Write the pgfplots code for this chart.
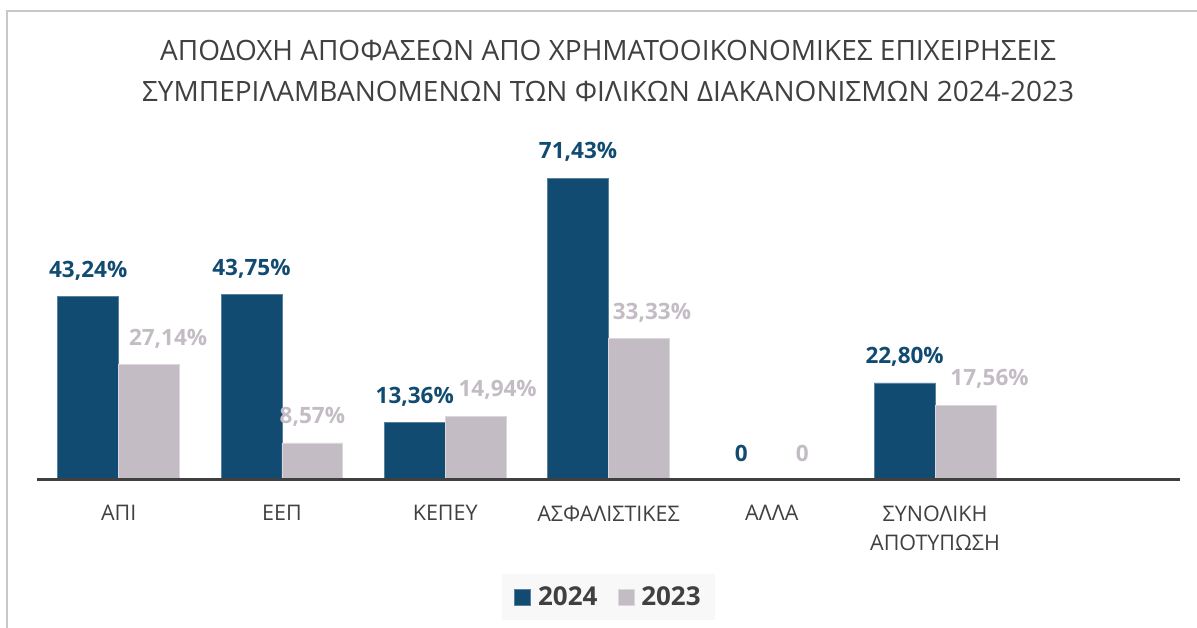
\documentclass[border=0pt]{standalone}
\usepackage{pgfplots}
\pgfplotsset{compat=1.18}
\usepackage{fontspec}
\setmainfont{Open Sans}
\definecolor{cblue}{HTML}{114B72}
\definecolor{cgrey}{HTML}{C3BCC4}
\definecolor{ctext}{HTML}{404040}
\definecolor{cborder}{HTML}{C8C8C8}
\definecolor{clegbg}{HTML}{F8F8F8}
\begin{document}
\begin{tikzpicture}
\path[use as bounding box] (0pt,0pt) rectangle (1197pt,-628pt);
\draw[cborder, line width=1.5pt] (7pt,-628pt) -- (7pt,-11pt) -- (1197pt,-11pt);
\node[align=center, text=ctext, font=\fontsize{28}{41}\selectfont] at (608pt,-71pt)
 {ΑΠΟΔΟΧΗ ΑΠΟΦΑΣΕΩΝ ΑΠΟ ΧΡΗΜΑΤΟΟΙΚΟΝΟΜΙΚΕΣ ΕΠΙΧΕΙΡΗΣΕΙΣ\\ΣΥΜΠΕΡΙΛΑΜΒΑΝΟΜΕΝΩΝ ΤΩΝ ΦΙΛΙΚΩΝ ΔΙΑΚΑΝΟΝΙΣΜΩΝ 2024-2023};
\begin{axis}[
  at={(37pt,-479pt)}, anchor=south west,
  scale only axis, width=1143pt, height=337pt,
  xmin=-0.5, xmax=6.5, ymin=0, ymax=80,
  ybar=0pt, bar width=0.373,
  axis x line*=bottom, hide y axis,
  x axis line style={draw=none},
  xtick={0,1,2,3,4,5},
  xticklabels={ΑΠΙ, ΕΕΠ, ΚΕΠΕΥ, ΑΣΦΑΛΙΣΤΙΚΕΣ, ΑΛΛΑ, {ΣΥΝΟΛΙΚΗ\\ΑΠΟΤΥΠΩΣΗ}},
  xticklabel style={align=center, text=ctext, font=\fontsize{21.5}{29}\selectfont, yshift=-23pt},
  major tick length=0pt,
  nodes near coords,
  point meta=explicit symbolic,
  visualization depends on={\thisrow{dx} \as \dx},
  every node near coord/.append style={anchor=center, yshift=26pt, xshift=\dx pt,
     font=\fontsize{22.5}{28}\selectfont\bfseries},
  legend columns=2,
  legend style={at={(0.5,-0.35)}, anchor=center, draw=none, fill=clegbg,
     font=\fontsize{26}{30}\selectfont\bfseries, text=ctext,
     inner xsep=12pt, inner ysep=11pt,
     /tikz/every odd column/.append style={column sep=5pt},
     /tikz/every even column/.append style={column sep=18pt}},
  legend image code/.code={\draw[#1, line width=0.8pt] (0pt,-8pt) rectangle (16pt,8pt);},
  clip=false,
]
\addplot[fill=cblue, draw=cblue!70!white, line width=0.8pt,
  every node near coord/.append style={text=cblue}]
  table[x=x, y=y, meta=lbl] {
x y lbl dx
0 43.24 {43,24\%} 0
1 43.75 {43,75\%} 0
2 13.36 {13,36\%} 0
3 71.43 {71,43\%} 0
4 0 0 0
5 22.80 {22,80\%} 0
};
\addlegendentry{2024}
\addplot[fill=cgrey, draw=cgrey!60!white, line width=0.8pt,
  every node near coord/.append style={text=cgrey}]
  table[x=x, y=y, meta=lbl] {
x y lbl dx
0 27.14 {27,14\%} 19
1 8.57 {8,57\%} 0
2 14.94 {14,94\%} 22
3 33.33 {33,33\%} 13
4 0 0 0
5 17.56 {17,56\%} 24
};
\addlegendentry{2023}
\draw[ctext, line width=3pt] (axis cs:-0.5,0) -- (axis cs:6.5,0);
\end{axis}
\end{tikzpicture}
\end{document}
